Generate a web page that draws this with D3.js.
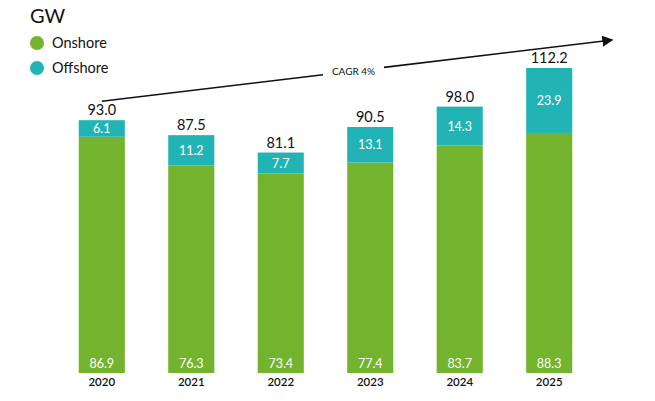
<!DOCTYPE html>
<html>
<head>
<meta charset="utf-8">
<script src="https://cdn.jsdelivr.net/npm/d3@7"></script>
<style>
  body { margin: 0; background: #fff; }
  svg { font-family: "Lato", "Open Sans", sans-serif; }
</style>
</head>
<body>
<svg id="chart" width="655" height="401"></svg>
<script>
var years = ["2020", "2021", "2022", "2023", "2024", "2025"];
var onshore = [86.9, 76.3, 73.4, 77.4, 83.7, 88.3];
var offshore = [6.1, 11.2, 7.7, 13.1, 14.3, 23.9];
var totals = [93.0, 87.5, 81.1, 90.5, 98.0, 112.2];
var cagrLabel = "CAGR 4%";

var green = "#73b32e",
  teal = "#22b4b4";

var svg = d3.select("#chart"),
  baseY = 373;

var xScale = d3.scaleBand().domain(years).range([57, 594])
  .paddingInner(0.485).paddingOuter(0.243);
var yScale = d3.scaleLinear().domain([0, 112.2]).range([baseY, 68]);

var data = years.map(function(y, i) {
  return { year: y, on: onshore[i], off: offshore[i], total: totals[i] };
});

// stacked bars
svg.selectAll(".on").data(data).enter().append("rect")
  .attr("x", function(d) { return xScale(d.year); })
  .attr("y", function(d) { return yScale(d.on); })
  .attr("width", xScale.bandwidth())
  .attr("height", function(d) { return baseY - yScale(d.on); })
  .attr("fill", green);

svg.selectAll(".off").data(data).enter().append("rect")
  .attr("x", function(d) { return xScale(d.year); })
  .attr("y", function(d) { return yScale(d.on + d.off); })
  .attr("width", xScale.bandwidth())
  .attr("height", function(d) { return yScale(d.on) - yScale(d.on + d.off); })
  .attr("fill", teal);

var cx = function(d) { return xScale(d.year) + xScale.bandwidth() / 2; };

// labels
svg.selectAll(".onlab").data(data).enter().append("text")
  .attr("x", cx).attr("y", baseY - 5)
  .attr("text-anchor", "middle").attr("font-size", 12.5)
  .attr("fill", "#fff").text(function(d) { return d.on.toFixed(1); });

svg.selectAll(".offlab").data(data).enter().append("text")
  .attr("x", cx)
  .attr("y", function(d) { return (yScale(d.on + d.off) + yScale(d.on)) / 2; })
  .attr("dy", "0.36em")
  .attr("text-anchor", "middle").attr("font-size", 12.5)
  .attr("fill", "#fff").text(function(d) { return d.off.toFixed(1); });

svg.selectAll(".totlab").data(data).enter().append("text")
  .attr("x", cx).attr("y", function(d) { return yScale(d.total) - 5; })
  .attr("text-anchor", "middle").attr("font-size", 14.5)
  .attr("fill", "#111").text(function(d) { return d.total.toFixed(1); });

// x axis labels
svg.append("g")
  .attr("transform", "translate(0," + (baseY + 1) + ")")
  .call(d3.axisBottom(xScale).tickSize(0).tickPadding(4))
  .call(function(g) {
    g.select(".domain").remove();
    g.selectAll("text").attr("font-size", 11.5).attr("font-weight", 600)
      .attr("fill", "#111").attr("font-family", "Lato, sans-serif");
  });

// title + legend
svg.append("text").attr("x", 30).attr("y", 23)
  .attr("font-size", 20).attr("fill", "#111").text("GW");

var legend = [["Onshore", green], ["Offshore", teal]];
legend.forEach(function(l, i) {
  svg.append("circle").attr("cx", 37).attr("cy", 43 + i * 25).attr("r", 7)
    .attr("fill", l[1]);
  svg.append("text").attr("x", 52).attr("y", 48 + i * 25)
    .attr("font-size", 14.5).attr("fill", "#111").text(l[0]);
});

// CAGR arrow
svg.append("defs").append("marker")
  .attr("id", "head").attr("viewBox", "0 0 10 10")
  .attr("refX", 9).attr("refY", 5)
  .attr("markerWidth", 11).attr("markerHeight", 11)
  .attr("markerUnits", "userSpaceOnUse")
  .attr("orient", "auto")
  .append("path").attr("d", "M0,0L10,5L0,10Z").attr("fill", "#111");

var x0 = cx(data[0]), y0 = yScale(totals[0]) - 19,
  x1 = xScale("2025") + xScale.bandwidth() + 40, y1 = yScale(totals[5]) - 28;
var lineAt = function(x) { return y0 + (y1 - y0) * (x - x0) / (x1 - x0); };
var gapL = 323, gapR = 384;

svg.append("line").attr("x1", x0).attr("y1", y0)
  .attr("x2", gapL).attr("y2", lineAt(gapL))
  .attr("stroke", "#111").attr("stroke-width", 1.6);
svg.append("line").attr("x1", gapR).attr("y1", lineAt(gapR))
  .attr("x2", x1).attr("y2", y1)
  .attr("stroke", "#111").attr("stroke-width", 1.6)
  .attr("marker-end", "url(#head)");

svg.append("text").attr("x", (gapL + gapR) / 2).attr("y", lineAt((gapL + gapR) / 2) + 4)
  .attr("text-anchor", "middle").attr("font-size", 10)
  .attr("fill", "#111").text(cagrLabel);
</script>
</body>
</html>
